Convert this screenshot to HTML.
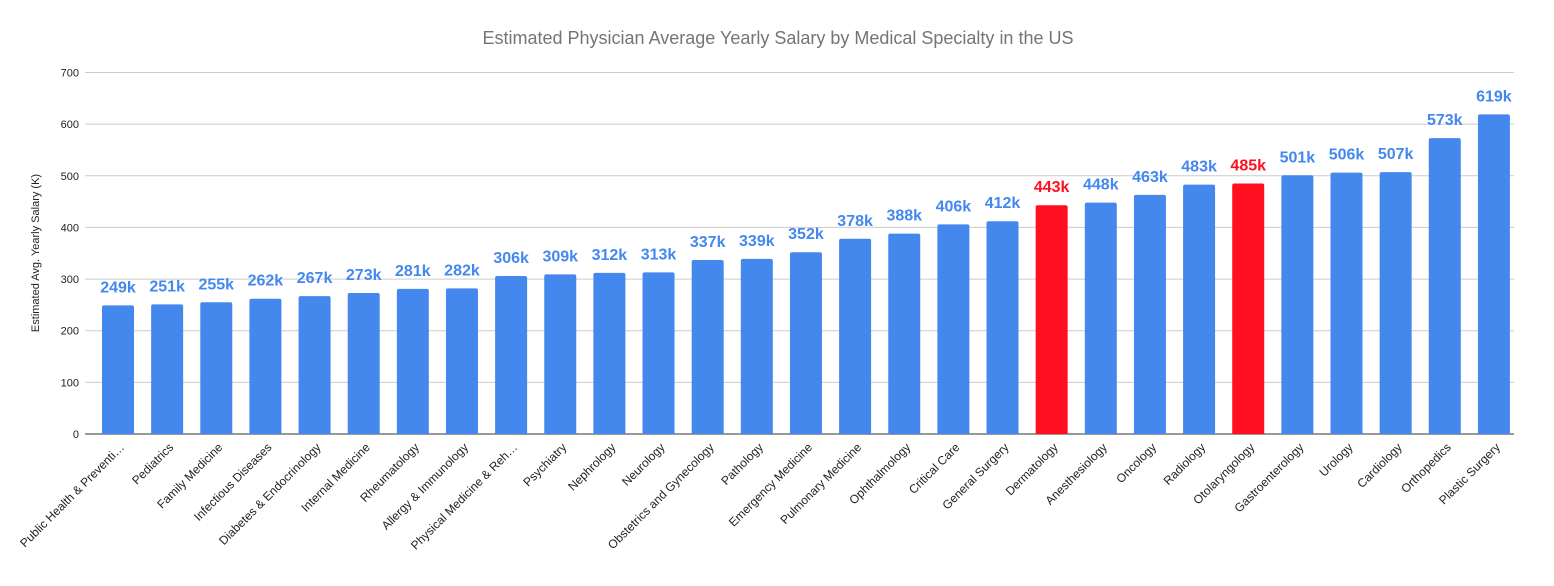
<!DOCTYPE html>
<html><head><meta charset="utf-8"><style>
body{margin:0;background:#fff;}
svg{display:block;font-family:"Liberation Sans",Arial,sans-serif;}
</style></head><body>
<svg id="chart" width="1554" height="586">
<text x="778" y="44" text-anchor="middle" font-size="18" fill="#757575">Estimated Physician Average Yearly Salary by Medical Specialty in the US</text>
<text transform="translate(39,253) rotate(-90)" text-anchor="middle" font-size="11" fill="#222">Estimated Avg. Yearly Salary (K)</text>
<g id="grid"></g><g id="bars"></g><g id="xlabels"></g>
</svg>
<script>
const categories=["Public Health & Preventi…","Pediatrics","Family Medicine","Infectious Diseases","Diabetes & Endocrinology","Internal Medicine","Rheumatology","Allergy & Immunology","Physical Medicine & Reh…","Psychiatry","Nephrology","Neurology","Obstetrics and Gynecology","Pathology","Emergency Medicine","Pulmonary Medicine","Ophthalmology","Critical Care","General Surgery","Dermatology","Anesthesiology","Oncology","Radiology","Otolaryngology","Gastroenterology","Urology","Cardiology","Orthopedics","Plastic Surgery"];
const values=[249,251,255,262,267,273,281,282,306,309,312,313,337,339,352,378,388,406,412,443,448,463,483,485,501,506,507,573,619];
const highlighted=["Dermatology","Otolaryngology"];
const yTicks=[0,100,200,300,400,500,600,700];
const NS="http://www.w3.org/2000/svg";
const x0=85,x1=1514,yBase=434,yTop=72.5,yMax=700;
const y=v=>yBase-(v/yMax)*(yBase-yTop);
const step=49.14,first=118;
const xc=i=>first+i*step;
function mk(t,a,p){const e=document.createElementNS(NS,t);for(const k in a)e.setAttribute(k,a[k]);p.appendChild(e);return e;}
const grid=document.getElementById('grid');
yTicks.forEach(t=>{
 const l=mk('line',{x1:x0,x2:x1,y1:y(t),y2:y(t),stroke:t===0?'#333':'#ccc','stroke-width':1},grid);
 
 
 const tx=mk('text',{x:79,y:y(t)+4,'text-anchor':'end','font-size':11,fill:'#222'},grid);
 tx.textContent=t;
 
 
});
const bars=document.getElementById('bars'),xl=document.getElementById('xlabels');
categories.forEach((c,i)=>{
 const v=values[i],hi=highlighted.includes(c),col=hi?'#ff0f1f':'#4488ee';
 const bw=32,top=y(v);
 const r=mk('path',{d:`M${xc(i)-bw/2},${yBase} V${top+2} Q${xc(i)-bw/2},${top} ${xc(i)-bw/2+2},${top} H${xc(i)+bw/2-2} Q${xc(i)+bw/2},${top} ${xc(i)+bw/2},${top+2} V${yBase} Z`,fill:col},bars);
 
 
 const lb=mk('text',{x:xc(i),y:top-13,'text-anchor':'middle','font-size':16,'font-weight':'bold',fill:hi?'#ff0f1f':'#4488ee'},bars);
 lb.textContent=v+'k';
 
 
 const t=mk('text',{transform:`translate(${xc(i)+7},${yBase+14}) rotate(-45)`,'text-anchor':'end','font-size':12,fill:'#222'},xl);
 t.textContent=c;
 
 
});
</script>
</body></html>
